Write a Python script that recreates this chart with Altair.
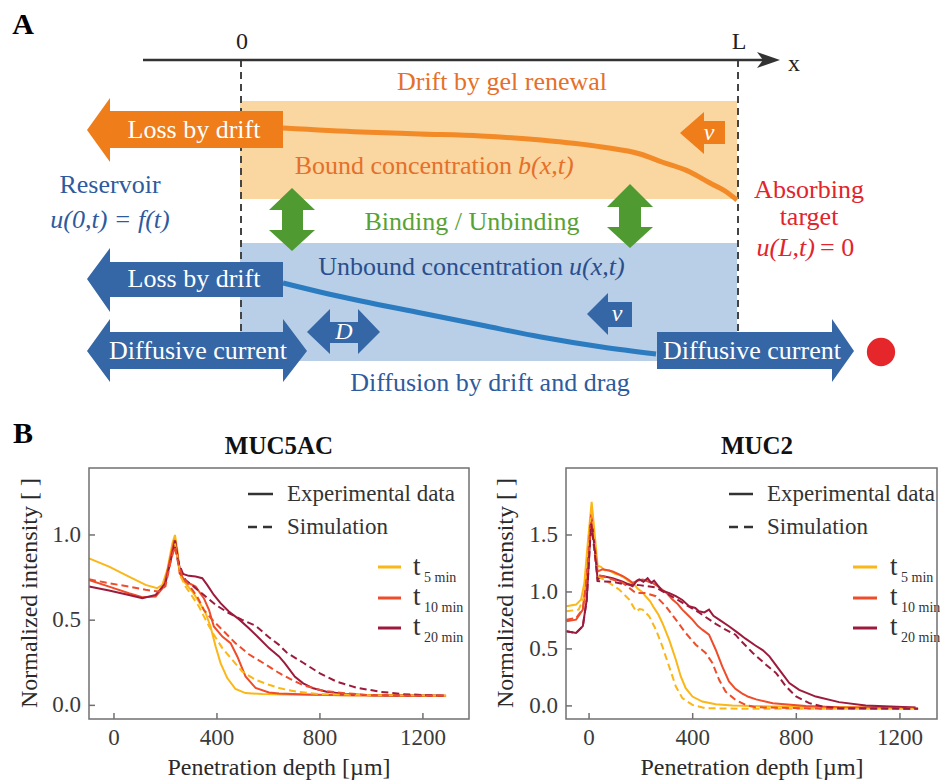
import altair as alt
import pandas as pd

FONT = "Liberation Serif"

# ---------------- Panel B data ----------------
time_keys = ["t5", "t10", "t20"]
time_colors = ["#FBB617", "#EE4C2A", "#9C1B3C"]

# MUC5AC
m5_t5_exp_x = [-97, -19, 58, 123, 168, 188, 207, 227, 237, 246, 255, 272, 304, 330, 356, 375, 395, 414, 440, 472, 511, 576, 700, 900, 1100, 1290]
m5_t5_exp_y = [0.863, 0.814, 0.756, 0.707, 0.688, 0.707, 0.795, 0.951, 1.0, 0.912, 0.795, 0.727, 0.668, 0.609, 0.541, 0.463, 0.346, 0.248, 0.16, 0.096, 0.072, 0.066, 0.062, 0.060, 0.058, 0.056]
m5_t10_exp_x = [-97, -19, 58, 110, 162, 194, 220, 235, 246, 255, 278, 317, 349, 369, 388, 421, 453, 479, 511, 550, 602, 641, 750, 900, 1100, 1290]
m5_t10_exp_y = [0.736, 0.697, 0.658, 0.635, 0.639, 0.697, 0.873, 0.971, 0.893, 0.775, 0.727, 0.697, 0.629, 0.561, 0.463, 0.404, 0.365, 0.287, 0.170, 0.102, 0.076, 0.070, 0.064, 0.060, 0.058, 0.056]
m5_t20_exp_x = [-97, -19, 58, 110, 162, 200, 224, 238, 247, 259, 291, 317, 343, 362, 388, 414, 446, 485, 524, 563, 602, 641, 664, 703, 735, 774, 826, 904, 994, 1150, 1283]
m5_t20_exp_y = [0.697, 0.674, 0.648, 0.629, 0.648, 0.717, 0.873, 0.967, 0.873, 0.775, 0.760, 0.756, 0.746, 0.707, 0.648, 0.600, 0.551, 0.506, 0.453, 0.395, 0.336, 0.287, 0.246, 0.168, 0.129, 0.100, 0.080, 0.066, 0.060, 0.057, 0.056]
m5_t5_sim_x = [237, 248, 259, 278, 304, 330, 356, 388, 421, 459, 498, 550, 602, 645, 710, 800, 1000, 1290]
m5_t5_sim_y = [0.95, 0.86, 0.756, 0.697, 0.639, 0.580, 0.502, 0.414, 0.336, 0.268, 0.199, 0.150, 0.121, 0.100, 0.080, 0.066, 0.060, 0.056]
m5_t10_sim_x = [-97, -19, 58, 123, 175, 200, 222, 237, 250, 265, 291, 323, 349, 382, 421, 472, 524, 589, 641, 684, 735, 813, 904, 994, 1150, 1290]
m5_t10_sim_y = [0.740, 0.717, 0.697, 0.678, 0.668, 0.700, 0.860, 0.930, 0.830, 0.756, 0.707, 0.639, 0.561, 0.502, 0.443, 0.365, 0.300, 0.240, 0.190, 0.155, 0.118, 0.086, 0.070, 0.060, 0.057, 0.056]
m5_t20_sim_x = [237, 250, 278, 317, 356, 395, 446, 498, 550, 602, 641, 671, 735, 800, 865, 942, 1033, 1123, 1214, 1290]
m5_t20_sim_y = [0.93, 0.84, 0.736, 0.688, 0.639, 0.590, 0.541, 0.502, 0.467, 0.400, 0.355, 0.310, 0.250, 0.188, 0.139, 0.104, 0.080, 0.066, 0.060, 0.056]

# MUC2
m2_t5_exp_x = [-88, -50, -31, -18, -5, 10, 21, 33, 46, 60, 78, 100, 117, 140, 155, 170, 187, 205, 219, 235, 251, 268, 283, 309, 335, 354, 373, 399, 437, 489, 553, 700, 900, 1100, 1270]
m2_t5_exp_y = [0.875, 0.889, 0.933, 1.08, 1.43, 1.79, 1.52, 1.23, 1.22, 1.19, 1.19, 1.16, 1.15, 1.12, 1.09, 1.08, 1.03, 1.00, 0.96, 0.92, 0.86, 0.80, 0.728, 0.581, 0.405, 0.258, 0.156, 0.082, 0.038, 0.015, 0.003, -0.005, -0.010, -0.015, -0.020]
m2_t10_exp_x = [-88, -50, -24, -9, 8, 21, 33, 53, 72, 91, 110, 130, 150, 168, 190, 207, 230, 245, 265, 283, 300, 322, 340, 360, 380, 399, 420, 437, 463, 489, 514, 540, 565, 590, 615, 645, 709, 837, 965, 1260]
m2_t10_exp_y = [0.743, 0.757, 0.845, 1.14, 1.68, 1.43, 1.18, 1.20, 1.19, 1.18, 1.16, 1.14, 1.11, 1.08, 1.10, 1.11, 1.09, 1.08, 1.05, 1.02, 0.99, 0.933, 0.90, 0.845, 0.80, 0.757, 0.70, 0.669, 0.625, 0.493, 0.346, 0.214, 0.150, 0.110, 0.080, 0.057, 0.023, 0.000, -0.012, -0.017]
m2_t20_exp_x = [-88, -50, -24, -9, 8, 21, 33, 53, 91, 130, 168, 185, 194, 210, 226, 240, 251, 268, 283, 310, 335, 360, 386, 410, 424, 445, 463, 480, 502, 540, 572, 604, 642, 670, 696, 734, 773, 811, 875, 965, 1068, 1260]
m2_t20_exp_y = [0.655, 0.640, 0.700, 0.933, 1.64, 1.40, 1.11, 1.14, 1.12, 1.09, 1.05, 1.10, 1.11, 1.09, 1.12, 1.08, 1.10, 1.05, 1.01, 0.99, 0.963, 0.93, 0.875, 0.86, 0.83, 0.82, 0.845, 0.79, 0.757, 0.699, 0.645, 0.590, 0.530, 0.490, 0.435, 0.318, 0.200, 0.141, 0.082, 0.033, 0.003, -0.014]
m2_t5_sim_x = [-88, -40, -20, -5, 10, 21, 33, 78, 117, 155, 181, 195, 207, 232, 258, 283, 309, 335, 360, 399, 450, 600, 900, 1270]
m2_t5_sim_y = [0.830, 0.845, 0.950, 1.35, 1.75, 1.45, 1.14, 1.08, 1.02, 0.933, 0.830, 0.850, 0.845, 0.787, 0.669, 0.522, 0.346, 0.170, 0.068, 0.009, -0.020, -0.025, -0.025, -0.025]
m2_t10_sim_x = [-88, -50, -24, -9, 8, 21, 33, 78, 130, 181, 219, 258, 296, 335, 373, 412, 450, 476, 502, 527, 565, 604, 642, 900, 1270]
m2_t10_sim_y = [0.757, 0.770, 0.850, 1.10, 1.62, 1.35, 1.15, 1.12, 1.08, 0.99, 0.99, 0.963, 0.875, 0.757, 0.640, 0.537, 0.464, 0.376, 0.229, 0.126, 0.053, 0.009, -0.012, -0.025, -0.025]
m2_t20_sim_x = [-88, -50, -24, -9, 8, 21, 33, 91, 130, 194, 258, 335, 424, 489, 527, 565, 581, 632, 683, 722, 760, 799, 850, 901, 965, 1270]
m2_t20_sim_y = [0.655, 0.640, 0.700, 0.930, 1.60, 1.38, 1.095, 1.09, 1.07, 1.06, 1.04, 0.94, 0.82, 0.72, 0.669, 0.625, 0.583, 0.465, 0.362, 0.288, 0.171, 0.083, 0.024, -0.005, -0.020, -0.025]

# axes of panel B
m5_xdomain = [-97, 1379]
m5_ydomain = [-0.080, 1.393]
m2_xdomain = [-89, 1343]
m2_ydomain = [-0.115, 2.088]
depth_ticks = [0, 400, 800, 1200]
m5_yticks = [0.0, 0.5, 1.0]
m2_yticks = [0.0, 0.5, 1.0, 1.5]

# ---------------- Panel A geometry (diagram units) ----------------
region_kind = ["bound_fill", "unbound_fill"]
region_x0 = [240, 240]
region_x1 = [737, 737]
region_y0 = [101, 243]
region_y1 = [199, 361]

axis_x0 = [143]
axis_x1 = [765]
axis_y = [60]
axis_head_x = [780, 757, 763, 757]
axis_head_y = [60, 52, 60, 68]
boundary_x = [241, 738]
boundary_y0 = [60, 60]
boundary_y1 = [345, 345]

bound_curve_x = [283, 361, 420, 481, 541, 602, 640, 662, 690, 710, 725, 737]
bound_curve_y = [128, 132, 134, 136, 140, 147, 154, 162, 172, 183, 191, 200]
unbound_curve_x = [283, 320, 361, 421, 481, 541, 602, 656]
unbound_curve_y = [283, 292, 301, 313, 325, 337, 347, 354]

# block arrows as polygons (vertex lists)
loss_o_x = [87, 110, 110, 283, 283, 110, 110]
loss_o_y = [130, 98, 111, 111, 148, 148, 162]
loss_b_x = [87, 110, 110, 283, 283, 110, 110]
loss_b_y = [279, 248, 262, 262, 297, 297, 312]
v_o_x = [680, 704, 704, 725, 725, 704, 704]
v_o_y = [133, 112, 121, 121, 144, 144, 154]
v_b_x = [587, 608, 608, 632, 632, 608, 608]
v_b_y = [314, 293, 302, 302, 327, 327, 335]
d_x = [307, 330, 330, 358, 358, 380, 358, 358, 330, 330]
d_y = [332, 309, 322, 322, 309, 332, 354, 343, 343, 354]
diff_l_x = [87, 110, 110, 283, 283, 307, 283, 283, 110, 110]
diff_l_y = [351, 319, 332, 332, 319, 351, 382, 369, 369, 382]
diff_r_x = [657, 832, 832, 854, 832, 832, 657]
diff_r_y = [332, 332, 319, 351, 382, 369, 369]
bind_l_x = [292, 315, 303, 303, 315, 292, 269, 282, 282, 269]
bind_l_y = [188, 210, 210, 230, 230, 251, 230, 230, 210, 210]
bind_r_x = [630, 653, 641, 641, 653, 630, 607, 619, 619, 607]
bind_r_y = [184, 207, 207, 227, 227, 248, 227, 227, 207, 207]

target_x = [881]
target_y = [352]

# texts: label, x, y, style group
txt_label = ["A", "B", "MUC5AC", "MUC2",
             "0", "L", "x",
             "Loss by drift", "Loss by drift", "Diffusive current", "Diffusive current",
             "v", "v", "D",
             "Drift by gel renewal",
             "Bound concentration", "b(x,t)",
             "Reservoir", "Diffusion by drift and drag", "u(0,t) = f(t)",
             "Unbound concentration", "u(x,t)",
             "Binding  /  Unbinding",
             "Absorbing", "target", "u(L,t)", "= 0",
             "Experimental data", "Simulation", "Experimental data", "Simulation",
             "t", "t", "t", "t", "t", "t",
             "5 min", "10 min", "20 min", "5 min", "10 min", "20 min",
             "Penetration depth [µm]", "Penetration depth [µm]",
             "Normalized intensity [ ]", "Normalized intensity [ ]"]
txt_x = [23, 23, 279, 757,
         242, 739, 794,
         194, 194, 198, 752,
         709, 617, 344,
         502,
         512, 518,
         110, 490, 110,
         563, 569,
         472,
         809, 809, 815, 820,
         287, 287, 767, 767,
         413, 413, 413, 890, 890, 890,
         424, 424, 424, 901, 901, 901,
         279, 752,
         30, 506]
txt_y = [25, 434, 446, 446,
         42, 42, 64,
         130, 279, 351, 351,
         133, 314, 332,
         82,
         166, 166,
         185, 383, 220,
         267, 267,
         222,
         190, 217, 248, 248,
         494, 527, 494, 527,
         575, 605, 635, 575, 605, 635,
         582, 612, 642, 582, 612, 642,
         768, 768,
         593, 593]
txt_group = ["letter", "letter", "title", "title",
             "axis", "axis", "axis",
             "white", "white", "white", "white",
             "white_it", "white_it", "white_it",
             "orange",
             "orange_r", "orange_it",
             "blue", "blue", "blue_it",
             "dblue_r", "dblue_it",
             "green",
             "red", "red", "red_it_r", "red_l",
             "legend", "legend", "legend", "legend",
             "tee", "tee", "tee", "tee", "tee", "tee",
             "sub", "sub", "sub", "sub", "sub", "sub",
             "xtitle", "xtitle",
             "ytitle", "ytitle"]

legend_line_kind = ["exp", "sim", "exp", "sim"]
legend_line_x0 = [248, 248, 729, 729]
legend_line_x1 = [273, 273, 753, 753]
legend_line_y = [494, 527, 494, 527]
tleg_kind = ["t5", "t10", "t20", "t5", "t10", "t20"]
tleg_x0 = [378, 378, 378, 853, 853, 853]
tleg_x1 = [401, 401, 401, 877, 877, 877]
tleg_y = [567, 598, 628, 567, 598, 628]

# ---------------- build panel A ----------------
diag_kinds = ["bound_fill", "unbound_fill", "orange", "blue", "orange_line", "blue_line",
              "green", "red", "dark", "t5", "t10", "t20"]
diag_colors = ["#FAD6A0", "#B9CFE7", "#EE7D1A", "#3566A6", "#F28A27", "#2B7BC1",
               "#4F9B31", "#E5262B", "#333333"] + time_colors

PXS = alt.Scale(domain=[0, 940], range=[0, 940], nice=False, zero=False)
PYS = alt.Scale(domain=[0, 782], range=[0, 782], nice=False, zero=False)


def PX(f):
    return alt.X(f, type="quantitative", scale=PXS, axis=None)


def PY(f):
    return alt.Y(f, type="quantitative", scale=PYS, axis=None)


def DC(f):
    return alt.Color(f, type="nominal", scale=alt.Scale(domain=diag_kinds, range=diag_colors), legend=None)


regions = pd.DataFrame({"k": region_kind, "x": region_x0, "x2": region_x1, "y": region_y0, "y2": region_y1})
layer_regions = alt.Chart(regions).mark_rect().encode(x=PX("x"), x2="x2", y=PY("y"), y2="y2", color=DC("k"))

bdf = pd.DataFrame({"x": boundary_x, "y": boundary_y0, "y2": boundary_y1})
layer_bound = alt.Chart(bdf).mark_rule(strokeDash=[7, 5], strokeWidth=2, color="#444444").encode(
    x=PX("x"), y=PY("y"), y2="y2")

adf = pd.DataFrame({"x": axis_x0, "x2": axis_x1, "y": axis_y})
layer_axis = alt.Chart(adf).mark_rule(strokeWidth=2.5, color="#333333").encode(x=PX("x"), x2="x2", y=PY("y"))

curves = pd.concat([
    pd.DataFrame({"k": "orange_line", "x": bound_curve_x, "y": bound_curve_y, "i": range(len(bound_curve_x))}),
    pd.DataFrame({"k": "blue_line", "x": unbound_curve_x, "y": unbound_curve_y, "i": range(len(unbound_curve_x))}),
])
layer_curves = alt.Chart(curves).mark_line(strokeWidth=5, interpolate="monotone").encode(
    x=PX("x"), y=PY("y"), color=DC("k"), detail="k:N", order="i:Q")


def poly(name, kind, xs, ys):
    return pd.DataFrame({"id": name, "k": kind, "i": range(len(xs)), "x": xs, "y": ys})


polys = pd.concat([
    poly("axis_head", "dark", axis_head_x, axis_head_y),
    poly("loss_o", "orange", loss_o_x, loss_o_y),
    poly("loss_b", "blue", loss_b_x, loss_b_y),
    poly("v_o", "orange", v_o_x, v_o_y),
    poly("v_b", "blue", v_b_x, v_b_y),
    poly("d", "blue", d_x, d_y),
    poly("diff_l", "blue", diff_l_x, diff_l_y),
    poly("diff_r", "blue", diff_r_x, diff_r_y),
    poly("bind_l", "green", bind_l_x, bind_l_y),
    poly("bind_r", "green", bind_r_x, bind_r_y),
])
layer_polys = alt.Chart(polys).mark_line(filled=True, interpolate="linear-closed", strokeWidth=0).encode(
    x=PX("x"), y=PY("y"), color=DC("k"), detail="id:N", order="i:Q")

layer_target = alt.Chart(pd.DataFrame({"x": target_x, "y": target_y, "k": ["red"]})).mark_circle(
    size=800, opacity=1).encode(x=PX("x"), y=PY("y"), color=DC("k"))

leg_df = pd.DataFrame({"k": legend_line_kind, "x": legend_line_x0, "x2": legend_line_x1, "y": legend_line_y})
layer_leg_exp = alt.Chart(leg_df).transform_filter(alt.datum.k == "exp").mark_rule(
    strokeWidth=2.5, color="#333333").encode(x=PX("x"), x2="x2", y=PY("y"))
layer_leg_sim = alt.Chart(leg_df).transform_filter(alt.datum.k == "sim").mark_rule(
    strokeWidth=2.5, color="#333333", strokeDash=[9, 6]).encode(x=PX("x"), x2="x2", y=PY("y"))
tleg_df = pd.DataFrame({"k": tleg_kind, "x": tleg_x0, "x2": tleg_x1, "y": tleg_y})
layer_tleg = alt.Chart(tleg_df).mark_rule(strokeWidth=3).encode(x=PX("x"), x2="x2", y=PY("y"), color=DC("k"))

text_df = pd.DataFrame({"text": txt_label, "x": txt_x, "y": txt_y, "g": txt_group})

DS = 26  # diagram text size
TEXT_STYLE = {
    "letter": dict(fontSize=30, fontWeight="bold", color="#000000"),
    "title": dict(fontSize=25, fontWeight="bold", color="#111111"),
    "axis": dict(fontSize=24, color="#222222"),
    "white": dict(fontSize=DS, color="#FFFFFF"),
    "white_it": dict(fontSize=24, fontStyle="italic", color="#FFFFFF"),
    "orange": dict(fontSize=DS, color="#E5702A"),
    "orange_r": dict(fontSize=DS, color="#E5702A", align="right"),
    "orange_it": dict(fontSize=DS, color="#E5702A", fontStyle="italic", align="left"),
    "blue": dict(fontSize=DS, color="#2D5B9E"),
    "blue_it": dict(fontSize=DS, color="#2D5B9E", fontStyle="italic"),
    "dblue_r": dict(fontSize=DS, color="#2A4E8C", align="right"),
    "dblue_it": dict(fontSize=DS, color="#2A4E8C", fontStyle="italic", align="left"),
    "green": dict(fontSize=DS, color="#58A234"),
    "red": dict(fontSize=DS, color="#E2242D"),
    "red_it_r": dict(fontSize=DS, color="#E2242D", fontStyle="italic", align="right"),
    "red_l": dict(fontSize=DS, color="#E2242D", align="left"),
    "legend": dict(fontSize=23, color="#333333", align="left"),
    "tee": dict(fontSize=27, color="#333333", align="left", baseline="alphabetic"),
    "sub": dict(fontSize=14, color="#333333", align="left", baseline="alphabetic"),
    "xtitle": dict(fontSize=24, color="#2a2a2a"),
    "ytitle": dict(fontSize=24, color="#2a2a2a", angle=270),
}

text_layers = []
for g, st in TEXT_STYLE.items():
    kw = dict(font=FONT, align="center", baseline="middle")
    kw.update(st)
    text_layers.append(
        alt.Chart(text_df).transform_filter(alt.datum.g == g).mark_text(**kw).encode(
            x=PX("x"), y=PY("y"), text="text:N"))

diagram = alt.layer(layer_regions, layer_bound, layer_axis, layer_curves,
                    layer_polys, layer_target,
                    layer_leg_exp, layer_leg_sim, layer_tleg, *text_layers)


# ---------------- build panel B ----------------
def series_df(t, kind, xs, ys):
    return pd.DataFrame({"x": xs, "y": ys, "t": t, "kind": kind, "series": t + "_" + kind})


m5_df = pd.concat([
    series_df("t5", "exp", m5_t5_exp_x, m5_t5_exp_y),
    series_df("t10", "exp", m5_t10_exp_x, m5_t10_exp_y),
    series_df("t20", "exp", m5_t20_exp_x, m5_t20_exp_y),
    series_df("t5", "sim", m5_t5_sim_x, m5_t5_sim_y),
    series_df("t20", "sim", m5_t20_sim_x, m5_t20_sim_y),
    series_df("t10", "sim", m5_t10_sim_x, m5_t10_sim_y),
])
m2_df = pd.concat([
    series_df("t5", "exp", m2_t5_exp_x, m2_t5_exp_y),
    series_df("t10", "exp", m2_t10_exp_x, m2_t10_exp_y),
    series_df("t20", "exp", m2_t20_exp_x, m2_t20_exp_y),
    series_df("t5", "sim", m2_t5_sim_x, m2_t5_sim_y),
    series_df("t10", "sim", m2_t10_sim_x, m2_t10_sim_y),
    series_df("t20", "sim", m2_t20_sim_x, m2_t20_sim_y),
])

TICK_COLOR = "#707070"
LABEL_COLOR = "#3a3a3a"
TICK_LEN = 6


def b_panel(df, xdom, xrng, ydom, yrng, xticks, yticks):
    xs = alt.Scale(domain=xdom, range=xrng, nice=False, zero=False)
    ys = alt.Scale(domain=ydom, range=yrng, nice=False, zero=False)

    def BX(f):
        return alt.X(f, type="quantitative", scale=xs, axis=None)

    def BY(f):
        return alt.Y(f, type="quantitative", scale=ys, axis=None)

    px_per_x = (xrng[1] - xrng[0]) / (xdom[1] - xdom[0])
    px_per_y = (yrng[0] - yrng[1]) / (ydom[1] - ydom[0])
    col = alt.Color("t:N", scale=alt.Scale(domain=time_keys, range=time_colors), legend=None)
    exp = alt.Chart(df).transform_filter(alt.datum.kind == "exp").mark_line(strokeWidth=2).encode(
        x=BX("x"), y=BY("y"), color=col, detail="series:N")
    sim = alt.Chart(df).transform_filter(alt.datum.kind == "sim").mark_line(
        strokeWidth=2, strokeDash=[7, 4]).encode(x=BX("x"), y=BY("y"), color=col, detail="series:N")
    fdf = pd.DataFrame({"x": [xdom[0]], "x2": [xdom[1]], "y": [ydom[0]], "y2": [ydom[1]]})
    frame = alt.Chart(fdf).mark_rect(filled=False, color=TICK_COLOR, strokeWidth=1.5).encode(
        x=BX("x"), x2="x2", y=BY("y"), y2="y2")
    xt = pd.DataFrame({"v": xticks, "y0": ydom[0], "y1": ydom[0] + TICK_LEN / px_per_y})
    yt = pd.DataFrame({"v": yticks, "x0": xdom[0], "x1": xdom[0] + TICK_LEN / px_per_x})
    xtick = alt.Chart(xt).mark_rule(color=TICK_COLOR, strokeWidth=1.5).encode(x=BX("v"), y=BY("y0"), y2="y1")
    ytick = alt.Chart(yt).mark_rule(color=TICK_COLOR, strokeWidth=1.5).encode(y=BY("v"), x=BX("x0"), x2="x1")
    xlab = alt.Chart(xt).mark_text(font=FONT, fontSize=23, color=LABEL_COLOR, baseline="top", dy=8).encode(
        x=BX("v"), y=BY("y0"), text=alt.Text("v:Q", format="d"))
    ylab = alt.Chart(yt).mark_text(font=FONT, fontSize=23, color=LABEL_COLOR, align="right",
                                   baseline="middle", dx=-8).encode(
        x=BX("x0"), y=BY("v"), text=alt.Text("v:Q", format=".1f"))
    return alt.layer(exp, sim, frame, xtick, ytick, xlab, ylab)


left_b = b_panel(m5_df, m5_xdomain, [89, 469], m5_ydomain, [719, 468], depth_ticks, m5_yticks)
right_b = b_panel(m2_df, m2_xdomain, [566, 937], m2_ydomain, [719, 468], depth_ticks, m2_yticks)

chart = alt.layer(diagram, left_b, right_b).resolve_scale(
    x="independent", y="independent", color="independent"
).properties(
    width=940, height=782, padding=0, background="white",
    autosize=alt.AutoSizeParams(type="none"),
).configure_view(strokeWidth=0)

chart.save("out.html", embed_options={"renderer": "svg", "actions": False})
